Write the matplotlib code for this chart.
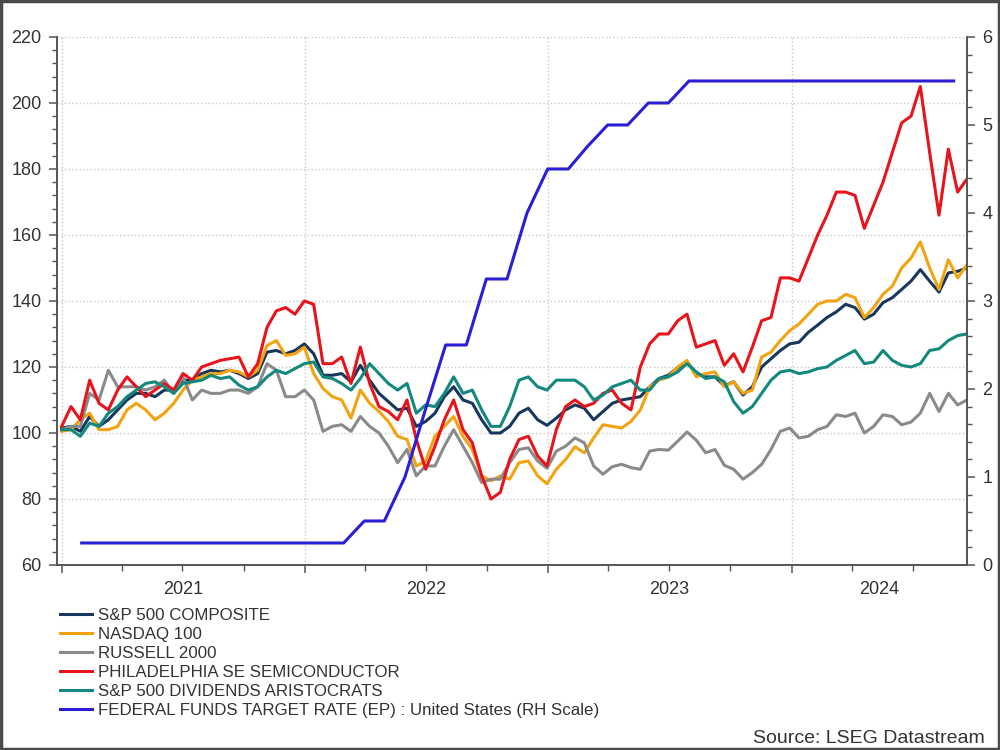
import pandas as pd
import matplotlib
matplotlib.use('Agg')
import matplotlib.pyplot as plt
import matplotlib.dates as mdates
from matplotlib.ticker import MultipleLocator
from matplotlib.patches import Rectangle

plt.rcParams['font.family'] = ['Liberation Sans', 'DejaVu Sans']

# fortnightly index levels, rebased to 100
dates = pd.date_range('2021-01-01', periods=98, freq='14D')

sp500 = [101.5, 102, 100.5, 105, 102, 104, 107, 110, 112, 112,
         111, 113, 113, 116, 116, 118, 119, 118.5, 119, 118,
         116.5, 118, 124.5, 125, 124, 125, 127, 124, 117.5, 117.5,
         118, 115.5, 120.5, 116, 112, 109.5, 107, 107.5, 102, 103.5,
         106, 111, 114, 110, 109, 104, 100, 100, 102, 106,
         107.5, 104, 102.3, 104.5, 107, 108.5, 107.5, 104, 106.5, 109,
         110, 110.5, 111, 114, 116.5, 117.5, 119.8, 121.5, 118, 117,
         117, 114.3, 115.5, 111.5, 114, 120, 122.5, 125, 127, 127.5,
         130.5, 132.7, 135, 136.7, 139, 138, 134.5, 136, 139.5, 141,
         143.5, 146, 149.5, 146, 142.7, 148.5, 149, 150]

nasdaq100 = [100.5, 101, 104, 106, 101, 101, 102, 107, 109, 107,
             104, 106, 109, 113, 116, 117, 118, 118, 119, 118.5,
             117, 119, 126.5, 128, 123.5, 124, 126, 118, 113.5, 111,
             110, 104.5, 113, 109, 106.5, 103.5, 99, 98, 90, 91.5,
             99, 102, 105, 99, 95, 87, 85.5, 87, 86, 91,
             91.5, 87, 84.6, 89, 92, 95.8, 94, 98.5, 102.5, 102,
             101.5, 103.5, 107, 114, 116, 117, 120, 122, 117, 118,
             118.5, 114, 115.5, 112, 113, 123, 124.5, 128, 131, 133,
             136, 139, 140, 140, 142, 141, 135, 138, 142, 144.5,
             150, 153, 157.9, 150, 143.5, 152.5, 147, 151]

russell2000 = [101, 102, 102, 112, 110, 119, 114, 114, 114, 113,
               114, 116, 112, 117, 110, 113, 112, 112, 113, 113,
               112, 114, 121, 119, 111, 111, 113, 110, 100.5, 102,
               102.5, 100.5, 105, 102, 100, 96, 91, 95, 87, 90,
               90, 96, 101, 96, 91, 85, 86, 86, 91, 95,
               95.5, 91.5, 89.3, 94.5, 96, 98.5, 97, 90, 87.5, 89.8,
               90.5, 89.5, 89, 94.5, 95, 94.8, 97.5, 100.3, 97.8, 94,
               95, 90.2, 89, 86, 88, 90.5, 95, 100.5, 101.5, 98.5,
               99, 101, 102, 105.5, 105, 106, 100, 102, 105.5, 105,
               102.5, 103.3, 106, 112, 106.5, 112, 108.5, 110]

semis = [102, 108, 104, 116, 109, 107, 113, 117, 114, 111,
         113, 115, 113, 118, 116, 120, 121, 122, 122.5, 123,
         117, 121, 132, 137, 138, 136, 140, 139, 121, 121,
         123, 115, 126, 115, 108, 106.5, 104, 110, 98, 89,
         96, 104, 110, 101, 97, 87, 80, 82, 92, 98,
         99, 93, 90, 101, 108, 110, 108, 109, 112, 113,
         109, 107, 120, 127, 130, 130, 134, 136, 126, 127,
         128, 120.5, 124, 118.5, 126, 134, 135, 147, 147, 146,
         153, 160, 166, 173, 173, 172, 162, 169, 176, 185,
         194, 196, 205, 185, 166, 186, 173, 177]

aristocrats = [101, 101, 99, 103, 102, 106, 108, 111, 113, 115,
               115.5, 114, 112, 115, 115.5, 116, 117.5, 116.5, 117, 114.5,
               113, 114, 117, 119, 118, 119.5, 121, 121.5, 117, 116.5,
               115, 113, 116.5, 121, 118, 115, 113, 115, 106, 108.5,
               108, 112, 117, 112, 113, 107, 102, 102, 108, 116,
               117, 114, 113, 116, 116, 116, 114, 110, 111.5, 114,
               115, 116, 113, 113, 116.5, 117, 118.5, 121, 118.5, 116.5,
               117, 115.5, 109.5, 106, 108, 112, 116, 118.5, 119, 118,
               118.5, 119.5, 120, 122, 123.5, 125, 121, 121.5, 125, 122,
               120.5, 120, 121, 125, 125.5, 128, 129.5, 130]

# month-end fed funds target rate, %
fed_dates = pd.date_range('2021-01-31', '2024-08-31', freq='ME')
fed_rate = [0.25] * 12 + \
           [0.25, 0.25, 0.5, 0.5, 1.0, 1.75, 2.5, 2.5, 3.25, 3.25, 4.0, 4.5] + \
           [4.5, 4.75, 5.0, 5.0, 5.25, 5.25, 5.5, 5.5, 5.5, 5.5, 5.5, 5.5] + \
           [5.5] * 8

series = [
    ('S&P 500 COMPOSITE', sp500, '#17375e'),
    ('NASDAQ 100', nasdaq100, '#f2a30f'),
    ('RUSSELL 2000', russell2000, '#8a8a8a'),
    ('PHILADELPHIA SE SEMICONDUCTOR', semis, '#e8141c'),
    ('S&P 500 DIVIDENDS ARISTOCRATS', aristocrats, '#13897e'),
]

txt = '#333333'
axc = '#555555'

fig = plt.figure(figsize=(10, 7.5), dpi=100)
ax = fig.add_axes([0.057, 0.2467, 0.91, 0.704])
ax2 = ax.twinx()

handles = []
for name, vals, col in series:
    h, = ax.plot(dates, vals, color=col, lw=2.2, label=name)
    handles.append(h)
h, = ax2.plot(fed_dates, fed_rate, color='#2a1fd4', lw=2.2,
              label='FEDERAL FUNDS TARGET RATE (EP) : United States (RH Scale)')
handles.append(h)

x0 = pd.Timestamp('2020-12-25')
x1 = pd.Timestamp('2024-09-20')
ax.set_xlim(x0, x1)
ax.set_ylim(60, 220)
ax2.set_ylim(0, 6)

ax.yaxis.set_major_locator(MultipleLocator(20))
ax.yaxis.set_minor_locator(MultipleLocator(4))
ax2.yaxis.set_major_locator(MultipleLocator(1))
ax2.yaxis.set_minor_locator(MultipleLocator(0.2))
ax.xaxis.set_major_locator(mdates.YearLocator())
ax.xaxis.set_minor_locator(mdates.MonthLocator(bymonth=[1, 4, 7, 10]))
ax.xaxis.set_major_formatter(plt.NullFormatter())

ax.grid(axis='y', which='major', linestyle=':', color='#c8c8c8', lw=1)
ax.grid(axis='x', which='major', linestyle=':', color='#c8c8c8', lw=1)

for a in (ax, ax2):
    a.spines['top'].set_visible(False)
    for s in ('left', 'right', 'bottom'):
        a.spines[s].set_color(axc)
        a.spines[s].set_linewidth(1.2)
    a.tick_params(which='major', length=6, width=1.1, color=axc,
                  labelsize=13, labelcolor=txt, direction='out')
    a.tick_params(which='minor', length=3.5, width=1.0, color=axc, direction='out')
ax.tick_params(axis='y', pad=5)
ax2.tick_params(axis='y', pad=5)
ax.tick_params(axis='x', which='minor', length=4)

# year labels centred in the visible part of each year
for yr in range(2021, 2025):
    a = max(pd.Timestamp(f'{yr}-01-01'), x0)
    b = min(pd.Timestamp(f'{yr}-12-31'), x1)
    mid = a + (b - a) / 2
    ax.text(mid, -0.03, str(yr), transform=ax.get_xaxis_transform(),
            ha='center', va='top', fontsize=13, color=txt)

fig.legend(handles=handles, loc='upper left', bbox_to_anchor=(0.060, 0.190),
           frameon=False, fontsize=12.2, handlelength=1.9, handletextpad=0.35,
           labelspacing=0.24, borderpad=0, borderaxespad=0, labelcolor=txt)

fig.text(0.985, 0.0093, 'Source: LSEG Datastream', ha='right', va='baseline',
         fontsize=14, color=txt)

fig.add_artist(Rectangle((0.001, 0.0015), 0.998, 0.997, transform=fig.transFigure,
                         fill=False, edgecolor='#4a4a4a', lw=2.5))

fig.savefig('out.png', dpi=100)
